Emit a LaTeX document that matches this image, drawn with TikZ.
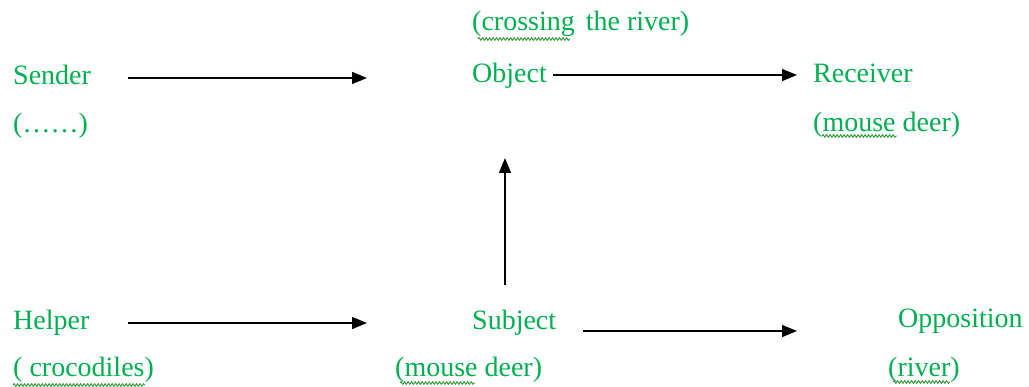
\documentclass[tikz,border=0pt]{standalone}
\usepackage{fontspec}
\setmainfont{Liberation Serif}
\usetikzlibrary{arrows.meta,decorations.pathmorphing}
\definecolor{TextClr}{RGB}{0,176,80}
\definecolor{WaveClr}{RGB}{40,150,50}

\begin{document}
\begin{tikzpicture}[x=1pt,y=-1pt,
  lbl/.style={anchor=base west,inner sep=0pt,text=TextClr,font=\fontsize{28}{32}\selectfont},
  arrow/.style={-{Triangle[length=15pt,width=12pt]},line width=1.5pt},
  wave/.style={WaveClr,line width=0.9pt,decorate,
    decoration={snake,amplitude=1.3pt,segment length=3.5pt}}]
\useasboundingbox (0,0) rectangle (1029,387);

% actants, top row
\node[lbl] (crossing) at (472,31) {(crossing\hspace{4pt} the river)};
\node[lbl] (sender) at (13,85) {Sender};
\node[lbl] (senderwho) at (13,133) {(……)};
\node[lbl] (object) at (472,83) {Object};
\node[lbl] (receiver) at (813,83) {Receiver};
\node[lbl] (receiverwho) at (813,132) {(mouse deer)};

% actants, bottom row
\node[lbl] (helper) at (13,330) {Helper};
\node[lbl] (helperwho) at (13,377) {( crocodiles)};
\node[lbl] (subject) at (472,330) {Subject};
\node[lbl] (subjectwho) at (395,377) {(mouse deer)};
\node[lbl] (opposition) at (898,328) {Opposition};
\node[lbl] (oppositionwho) at (888,377) {(river)};

% arrow ends
\coordinate (sendtail) at (128,78);
\coordinate (sendhead) at (367,78);
\coordinate (givetail) at (553,75);
\coordinate (givehead) at (797,75);
\coordinate (wanttail) at (505,285);
\coordinate (wanthead) at (505,158);
\coordinate (helptail) at (128,323);
\coordinate (helphead) at (367,323);
\coordinate (opptail) at (583,331);
\coordinate (opphead) at (797,331);

\draw[arrow] (sendtail) -- (sendhead);
\draw[arrow] (givetail) -- (givehead);
\draw[arrow] (wanttail) -- (wanthead);
\draw[arrow] (helptail) -- (helphead);
\draw[arrow] (opptail) -- (opphead);

% spelling marks
\draw[wave] (478,39) -- (570,39);
\draw[wave] (822,136) -- (897,136);
\draw[wave] (13,385) -- (145,385);
\draw[wave] (400,383) -- (475,383);
\draw[wave] (893,382) -- (950,382);
\end{tikzpicture}
\end{document}
